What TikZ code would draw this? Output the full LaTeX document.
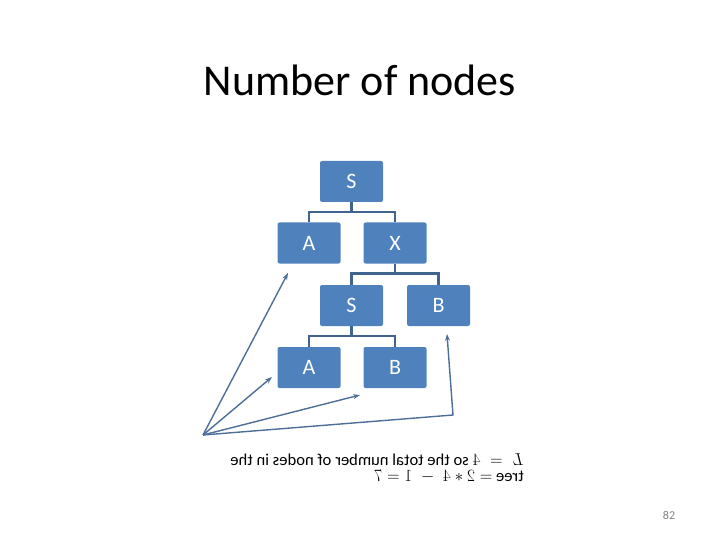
\documentclass[tikz,border=0pt]{standalone}
\usepackage{fontspec}
\setmainfont{Carlito}
\usetikzlibrary{arrows.meta}
\definecolor{bleuboite}{HTML}{4F81BD}
\definecolor{bleulien}{HTML}{41648F}
\definecolor{bleufleche}{HTML}{4C6E98}
\begin{document}
\begin{tikzpicture}[x=1pt,y=-1pt]
		\tikzstyle{boite}=[draw=none,fill=bleuboite,rounded corners=2pt,text=white,minimum width=63pt,minimum height=41pt,inner sep=0pt,font=\fontsize{22}{24}\selectfont]
		\tikzstyle{lien}=[draw=bleulien,line width=2.5pt]
		\tikzstyle{fleche}=[-{Stealth[length=7pt,width=5pt]},draw=bleufleche,line width=1.4pt]
		\tikzstyle{miroir}=[xscale=-1,inner sep=0pt,align=left,font=\fontsize{16.6}{16}\selectfont]
		
		\useasboundingbox (0,0) rectangle (720,540);
		
		\def\NiveauA{181.5}
		\def\NiveauB{243}
		\def\NiveauC{305.5}
		\def\NiveauD{367.5}
		
		\node[anchor=base,font=\fontsize{44}{48}\selectfont] (titre) at (360,96) {Number of nodes};
		
		\node[boite] (S) at (351.5,\NiveauA) {S};
		\node[boite] (A) at (309,\NiveauB) {A};
		\node[boite] (X) at (395,\NiveauB) {X};
		\node[boite] (Sb) at (351.5,\NiveauC) {S};
		\node[boite] (B) at (438.5,\NiveauC) {B};
		\node[boite] (Ab) at (309,\NiveauD) {A};
		\node[boite] (Bb) at (395,\NiveauD) {B};
		
		\draw[lien] (S.south) -- ++(0,10) -| (A.north);
		\draw[lien] (S.south) -- ++(0,10) -| (X.north);
		\draw[lien] (X.south) -- ++(0,10) -| (Sb.north);
		\draw[lien] (X.south) -- ++(0,10) -| (B.north);
		\draw[lien] (Sb.south) -- ++(0,10) -| (Ab.north);
		\draw[lien] (Sb.south) -- ++(0,10) -| (Bb.north);
		
		\coordinate (O) at (203,435);
		\coordinate (F1) at (288,273);
		\coordinate (F2) at (272,377);
		\coordinate (F3) at (360,395);
		\coordinate (C4) at (453,415);
		\coordinate (F4) at (447,334);
		
		\draw[fleche] (O)--(F1);
		\draw[fleche] (O)--(F2);
		\draw[fleche] (O)--(F3);
		\draw[fleche] (O)--(C4)--(F4);
		
		\node[miroir,anchor=north west] (texte) at (524,453) {$L\;=\;4$ so the total number of nodes in the\\tree $= 2 * 4\;-\;1 = 7$};
		
		\node[text=gray,font=\fontsize{12}{14}\selectfont] (page) at (669,515) {82};
\end{tikzpicture}
\end{document}
